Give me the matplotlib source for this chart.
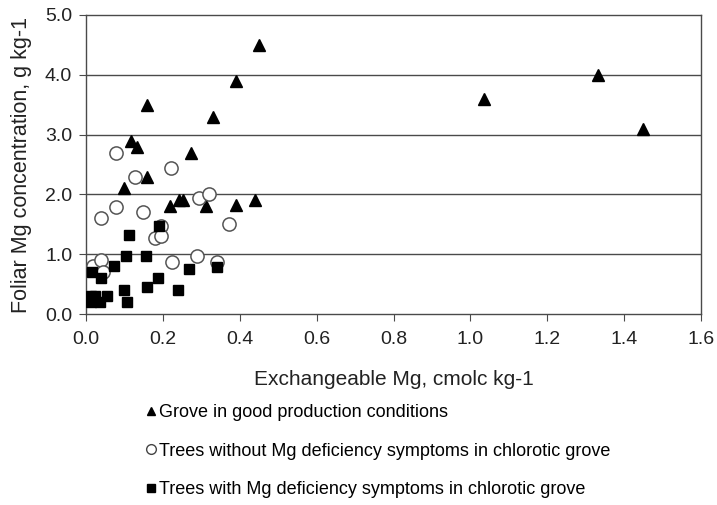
import matplotlib
matplotlib.use("Agg")
import matplotlib.pyplot as plt
from matplotlib.lines import Line2D

plt.rcParams['font.family'] = ['Liberation Sans', 'DejaVu Sans']

# Grove in good production conditions
good_x = [0.45, 0.39, 0.158, 0.33, 0.117, 0.132, 0.274, 0.158, 0.099, 0.219,
          0.242, 0.251, 0.311, 0.39, 0.44, 1.035, 1.333, 1.45]
good_y = [4.5, 3.9, 3.5, 3.3, 2.9, 2.8, 2.7, 2.3, 2.1, 1.8,
          1.9, 1.9, 1.8, 1.83, 1.9, 3.6, 4.0, 3.1]

# Trees without Mg deficiency symptoms in chlorotic grove
nosym_x = [0.078, 0.222, 0.127, 0.077, 0.038, 0.148, 0.293, 0.321, 0.372,
           0.195, 0.18, 0.194, 0.018, 0.039, 0.043, 0.223, 0.289, 0.34]
nosym_y = [2.70, 2.45, 2.30, 1.79, 1.60, 1.70, 1.94, 2.0, 1.50,
           1.48, 1.27, 1.31, 0.81, 0.91, 0.71, 0.87, 0.97, 0.87]

# Trees with Mg deficiency symptoms in chlorotic grove
sym_x = [0.112, 0.189, 0.105, 0.157, 0.074, 0.015, 0.038, 0.268, 0.34,
         0.188, 0.158, 0.240, 0.098, 0.107, 0.012, 0.024, 0.055, 0.012, 0.036]
sym_y = [1.32, 1.48, 0.97, 0.97, 0.80, 0.71, 0.61, 0.76, 0.79,
         0.60, 0.46, 0.40, 0.41, 0.21, 0.30, 0.30, 0.31, 0.21, 0.21]

x_ticks = [0.0, 0.2, 0.4, 0.6, 0.8, 1.0, 1.2, 1.4, 1.6]
y_ticks = [0.0, 1.0, 2.0, 3.0, 4.0, 5.0]

fig = plt.figure(figsize=(7.17, 5.05), dpi=100)
ax = fig.add_axes([0.12, 0.378, 0.8577, 0.5923])

# horizontal grid lines only
for yv in y_ticks[1:-1]:
    ax.axhline(yv, color='#4a4a4a', lw=1.0, zorder=1)

ax.plot(good_x, good_y, ls='none', marker='^', ms=8, color='black', zorder=3)
ax.plot(nosym_x, nosym_y, ls='none', marker='o', ms=9.5, mfc='white',
        mec='#555555', mew=1.1, zorder=3)
ax.plot(sym_x, sym_y, ls='none', marker='s', ms=7.5, color='black', zorder=4)

ax.set_xlim(0, 1.6)
ax.set_ylim(0, 5.0)
ax.set_xticks(x_ticks)
ax.set_xticklabels(['%.1f' % v for v in x_ticks])
ax.set_yticks(y_ticks)
ax.set_yticklabels(['%.1f' % v for v in y_ticks])
ax.tick_params(axis='both', labelsize=14, color='#4a4a4a', length=5,
               labelcolor='#222222')
ax.tick_params(axis='x', pad=7)
ax.tick_params(axis='y', pad=5)
for s in ax.spines.values():
    s.set_color('#4a4a4a')
    s.set_linewidth(1.0)

ax.set_xlabel('Exchangeable Mg, cmolc kg-1', fontsize=15, color='#222222',
              labelpad=16)
ax.set_ylabel('Foliar Mg concentration, g kg-1', fontsize=15.5, color='#222222',
              labelpad=9)

# legend below the plot, no frame
handles = [
    Line2D([], [], ls='none', marker='^', ms=6, color='black'),
    Line2D([], [], ls='none', marker='o', ms=7, mfc='white', mec='#444444'),
    Line2D([], [], ls='none', marker='s', ms=6, color='black'),
]
labels = ['Grove in good production conditions',
          'Trees without Mg deficiency symptoms in chlorotic grove',
          'Trees with Mg deficiency symptoms in chlorotic grove']
fig.legend(handles, labels, loc='upper left', bbox_to_anchor=(0.18, 0.232),
           frameon=False, handlelength=0.6, handletextpad=0.15,
           labelspacing=1.2, prop={'size': 13})

fig.savefig('out.png', dpi=100)
